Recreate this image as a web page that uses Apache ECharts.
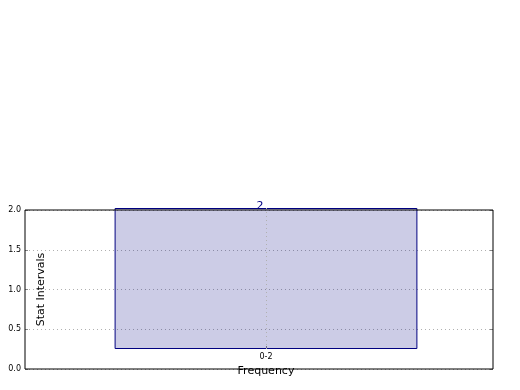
<!DOCTYPE html>
<html>
<head>
<meta charset="utf-8">
<script src="https://cdn.jsdelivr.net/npm/echarts@6/dist/echarts.min.js"></script>
<style>html,body{margin:0;padding:0;background:#fff}#c{width:520px;height:390px}</style>
</head>
<body>
<div id="c"></div>
<script>
const categories = ["0-2"];
const values = [2];
const yTicks = [0, 0.5, 1.0, 1.5, 2.0];

const chart = echarts.init(document.getElementById('c'), null, {renderer: 'canvas'});
const font = 'DejaVu Sans';
const option = {
  animation: false,
  backgroundColor: '#ffffff',
  grid: [
    {left: 25, right: 27, top: 210, bottom: 21, containLabel: false, outerBoundsMode: 'none', show: true, borderColor: '#000', borderWidth: 1, backgroundColor: 'transparent', z: 10},
    {left: 32, right: 20, top: 208, bottom: 41, containLabel: false, outerBoundsMode: 'none'}
  ],
  xAxis: [
    {gridIndex: 0, type: 'value', min: 0, max: 1, show: false},
    {gridIndex: 1, type: 'category', data: categories,
      axisLine: {show: false},
      axisTick: {show: true, inside: true, length: 3, alignWithLabel: true, lineStyle: {color: '#888'}},
      axisLabel: {fontFamily: font, fontSize: 8, color: '#000', margin: 4},
      name: 'Frequency', nameLocation: 'middle', nameGap: 17,
      nameTextStyle: {fontFamily: font, fontSize: 11, color: '#000'}
    }
  ],
  yAxis: [
    {gridIndex: 0, type: 'value', min: yTicks[0], max: yTicks[yTicks.length - 1], interval: 0.5,
      axisLine: {show: false},
      axisTick: {show: true, inside: true, length: 3, lineStyle: {color: '#888'}},
      axisLabel: {fontFamily: font, fontSize: 8, color: '#000', margin: 4, formatter: v => v.toFixed(1)},
      splitLine: {show: true, lineStyle: {color: '#b0b0b0', type: [1, 3], width: 1}}
    },
    {gridIndex: 0, type: 'value', position: 'right', min: yTicks[0], max: yTicks[yTicks.length - 1], interval: 0.5,
      axisLine: {show: false},
      axisTick: {show: true, inside: true, length: 3, lineStyle: {color: '#888'}},
      axisLabel: {show: false}, splitLine: {show: false}
    },
    {gridIndex: 1, type: 'value', min: 0, max: 2, show: false},
    {gridIndex: 0, type: 'value', position: 'left', offset: -22, min: 0, max: 2,
      axisLine: {show: false}, axisTick: {show: false}, axisLabel: {show: false}, splitLine: {show: false},
      name: 'Stat Intervals', nameLocation: 'middle', nameGap: 0, nameRotate: 90,
      nameTextStyle: {fontFamily: font, fontSize: 11, color: '#000'}
    }
  ],
  series: [
    {type: 'bar', xAxisIndex: 1, yAxisIndex: 2, data: values, barWidth: '64.7%',
      itemStyle: {color: 'rgba(0,0,128,0.2)', borderColor: '#000080', borderWidth: 1},
      label: {show: true, position: 'top', distance: -4, offset: [-6, 0], color: '#000080', fontFamily: font, fontSize: 11},
      markLine: {silent: true, symbol: 'none', label: {show: false},
        lineStyle: {color: '#b0b0b0', type: [1, 3], width: 1},
        data: [{xAxis: categories[0]}]}
    }
  ]
};
chart.setOption(option);
</script>
</body>
</html>
